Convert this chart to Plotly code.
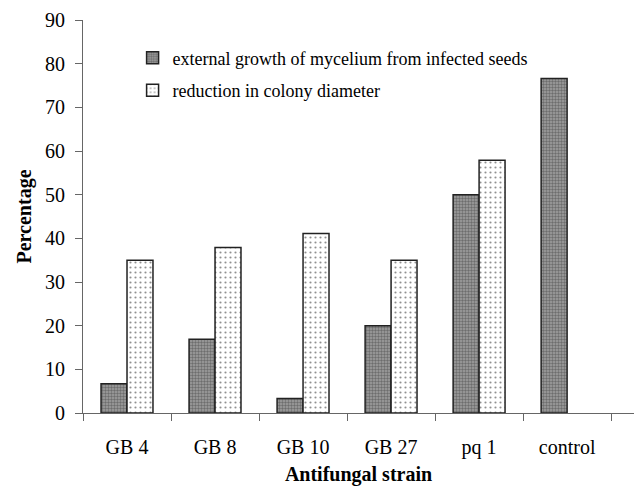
import plotly.graph_objects as go

categories = ["GB 4", "GB 8", "GB 10", "GB 27", "pq 1", "control"]
external_growth = [6.7, 16.9, 3.3, 20.0, 50.0, 76.6]
reduction_diam = [35.0, 37.9, 41.1, 35.0, 57.9, None]

series_names = ["external growth of mycelium from infected seeds",
                "reduction in colony diameter"]

FONT = "Liberation Serif, serif"

fig = go.Figure()
fig.add_trace(go.Bar(
    x=categories, y=external_growth, name=series_names[0],
    legendgroup="a",
    marker=dict(color="#8c8c8c",
                line=dict(color="#222222", width=1.5),
                pattern=dict(shape=".", bgcolor="#a0a0a0", fgcolor="#3a3a3a",
                             size=3, solidity=0.5)),
))
fig.add_trace(go.Bar(
    x=categories, y=reduction_diam, name=series_names[1],
    legendgroup="b",
    marker=dict(color="white",
                line=dict(color="#222222", width=1.5),
                pattern=dict(shape=".", bgcolor="white", fgcolor="#222222",
                             size=5, solidity=0.15)),
))

fig.update_layout(
    width=634, height=486,
    margin=dict(l=83, r=0, t=20, b=73),
    paper_bgcolor="white", plot_bgcolor="white",
    font=dict(family=FONT, size=20, color="black"),
    barmode="group", bargap=0.41, bargroupgap=0,
    showlegend=True,
    legend=dict(x=0.09, y=0.95, xanchor="left", yanchor="top",
                bgcolor="rgba(0,0,0,0)", traceorder="grouped",
                tracegroupgap=6, itemwidth=30),
)
fig.update_layout(legend_font_family="Liberation Serif",
                  legend_font_size=18, legend_font_color="black")
fig.update_xaxes(
    type="category", range=[-0.5, 5.76],
    showline=True, linecolor="#666666", linewidth=1,
    ticks="outside", tickson="boundaries", ticklen=7, tickcolor="#666666",
    showgrid=False, zeroline=False,
    ticklabelstandoff=16,
    tickfont=dict(family=FONT, size=20),
    title=dict(text="<b>Antifungal strain</b>", standoff=8,
               font=dict(family=FONT, size=20)),
)
fig.update_yaxes(
    range=[0, 90], dtick=10,
    showline=True, linecolor="#666666", linewidth=1,
    ticks="outside", ticklen=7, tickcolor="#666666",
    showgrid=False, zeroline=False,
    ticklabelstandoff=6,
    tickfont=dict(family=FONT, size=20),
    title=dict(text="<b>Percentage</b>", standoff=8,
               font=dict(family=FONT, size=20)),
)

fig.write_html("out.html")
